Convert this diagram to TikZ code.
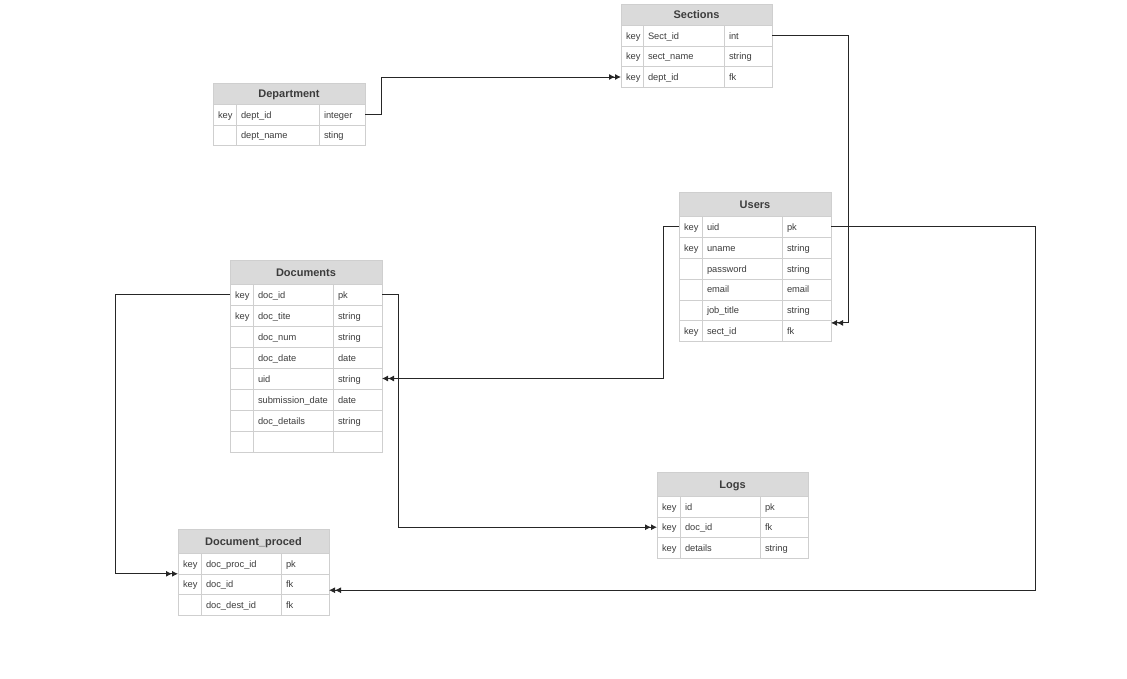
\documentclass[tikz,border=0pt]{standalone}
\usepackage{fontspec}
\setmainfont{Liberation Sans}
\usepackage{tikz}
\usetikzlibrary{positioning}
\usetikzlibrary{arrows.meta}

\definecolor{headfill}{HTML}{DADADA}
\definecolor{gridline}{HTML}{CFCFCF}
\definecolor{txt}{HTML}{3C3C3C}

\begin{document}
\begin{tikzpicture}[x=1pt, y=-1pt,
    head/.style = {draw=gridline, fill=headfill, anchor=north west, outer sep=0pt, inner sep=0pt,
                   text height=8.6pt, text depth=0.4pt,
                   text=txt, font=\fontsize{11}{12}\selectfont\bfseries},
    cell/.style = {draw=gridline, anchor=west, outer sep=0pt, inner xsep=5pt, inner ysep=0pt,
                   minimum height=20.8pt, text height=7.8pt, text depth=0.6pt, align=left,
                   text=txt, font=\fontsize{9.3}{10}\selectfont},
    link/.style = {draw=black!85, line width=0.9pt,
                   -{Latex[length=6pt,width=6pt]Latex[length=6pt,width=6pt]}}]
    \useasboundingbox (0,0) rectangle (1127,678);

    % Sections
    \node[head, minimum width=151pt, minimum height=21pt] (sec) at (621,4) {Sections};
    \foreach \k/\n/\ty [count=\i] in {key/Sect\_id/int, key/sect\_name/string, key/dept\_id/fk} {
        \node[cell, anchor=north west, text width=12pt] (sec-\i-k) at ([yshift={-(\i-1)*20.8pt}]sec.south west) {\k};
        \node[cell, text width=71pt] (sec-\i-n) at (sec-\i-k.east) {\n};
        \node[cell, text width=38pt] (sec-\i-t) at (sec-\i-n.east) {\ty};
    }

    % Department
    \node[head, minimum width=152pt, minimum height=21pt] (dep) at (213,83) {Department};
    \foreach \k/\n/\ty [count=\i] in {key/dept\_id/integer, {}/dept\_name/sting} {
        \node[cell, anchor=north west, text width=13pt] (dep-\i-k) at ([yshift={-(\i-1)*20.8pt}]dep.south west) {\k};
        \node[cell, text width=73pt] (dep-\i-n) at (dep-\i-k.east) {\n};
        \node[cell, text width=36pt] (dep-\i-t) at (dep-\i-n.east) {\ty};
    }

    % Users
    \node[head, minimum width=152pt, minimum height=24.5pt] (usr) at (679,192) {Users};
    \foreach \k/\n/\ty [count=\i] in {key/uid/pk, key/uname/string, {}/password/string,
                                      {}/email/email, {}/job\_title/string, key/sect\_id/fk} {
        \node[cell, anchor=north west, text width=13pt] (usr-\i-k) at ([yshift={-(\i-1)*20.8pt}]usr.south west) {\k};
        \node[cell, text width=70pt] (usr-\i-n) at (usr-\i-k.east) {\n};
        \node[cell, text width=39pt] (usr-\i-t) at (usr-\i-n.east) {\ty};
    }

    % Documents
    \node[head, minimum width=152pt, minimum height=24pt] (doc) at (230,260) {Documents};
    \foreach \k/\n/\ty [count=\i] in {key/doc\_id/pk, key/doc\_tite/string, {}/doc\_num/string,
                                      {}/doc\_date/date, {}/uid/string, {}/submission\_date/date,
                                      {}/doc\_details/string, {}/{}/{}} {
        \node[cell, anchor=north west, text width=13pt, minimum height=21pt] (doc-\i-k) at ([yshift={-(\i-1)*21pt}]doc.south west) {\k};
        \node[cell, text width=70pt, minimum height=21pt] (doc-\i-n) at (doc-\i-k.east) {\n};
        \node[cell, text width=39pt, minimum height=21pt] (doc-\i-t) at (doc-\i-n.east) {\ty};
    }

    % Logs
    \node[head, minimum width=151pt, minimum height=24pt] (log) at (657,472) {Logs};
    \foreach \k/\n/\ty [count=\i] in {key/id/pk, key/doc\_id/fk, key/details/string} {
        \node[cell, anchor=north west, text width=13pt] (log-\i-k) at ([yshift={-(\i-1)*20.8pt}]log.south west) {\k};
        \node[cell, text width=70pt] (log-\i-n) at (log-\i-k.east) {\n};
        \node[cell, text width=38pt] (log-\i-t) at (log-\i-n.east) {\ty};
    }

    % Document_proced
    \node[head, minimum width=151pt, minimum height=24pt] (dp) at (178,529) {Document\_proced};
    \foreach \k/\n/\ty [count=\i] in {key/doc\_proc\_id/pk, key/doc\_id/fk, {}/doc\_dest\_id/fk} {
        \node[cell, anchor=north west, text width=13pt] (dp-\i-k) at ([yshift={-(\i-1)*20.8pt}]dp.south west) {\k};
        \node[cell, text width=70pt] (dp-\i-n) at (dp-\i-k.east) {\n};
        \node[cell, text width=38pt] (dp-\i-t) at (dp-\i-n.east) {\ty};
    }

    % relations
    \draw[link] (dep-1-t.east) -- ++(16,0) |- (sec-3-k.west);
    \draw[link] (sec-1-t.east) -- ++(76,0) |- ([yshift=8pt]usr-6-t.east);
    \draw[link] (usr-1-k.west) -- ++(-16,0) |- (doc-5-t.east);
    \draw[link] (usr-1-t.east) -- ++(204,0) |- ([yshift=-6pt]dp-2-t.east);
    \draw[link] (doc-1-t.east) -- ++(16,0) |- (log-2-k.west);
    \draw[link] (doc-1-k.west) -- ++(-115,0) |- ([yshift=10.4pt]dp-2-k.west);
\end{tikzpicture}
\end{document}
